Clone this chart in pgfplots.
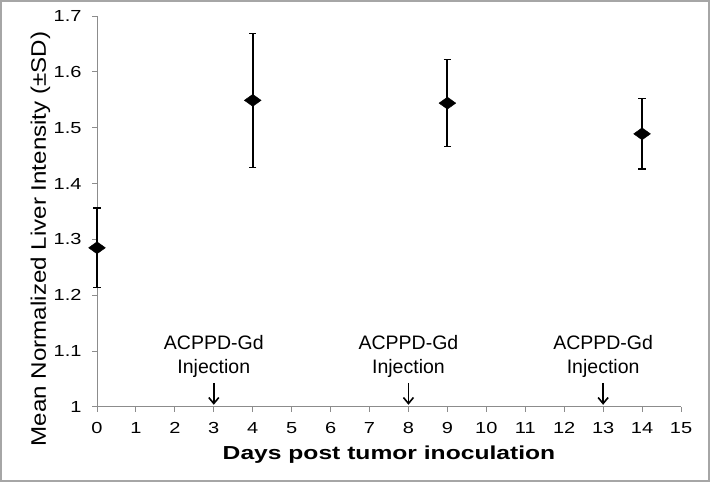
\documentclass[border=0pt]{standalone}
\usepackage{pgfplots}
\pgfplotsset{compat=1.18}
\usepackage{graphicx}
\usepackage{fontspec}
\setmainfont{Liberation Sans}
\usetikzlibrary{arrows.meta}
\begin{document}
\begin{tikzpicture}[x=1pt,y=1pt]
\useasboundingbox (0,0) rectangle (710,482);
\draw[line width=2pt, color=black!35] (1,1) rectangle (709,481);
\begin{axis}[
  at={(97pt,75pt)}, anchor=south west,
  scale only axis, width=584pt, height=391pt,
  xmin=0, xmax=15, ymin=1, ymax=1.7,
  xtick={0,1,...,15}, ytick={1,1.1,1.2,1.3,1.4,1.5,1.6,1.7},
  xticklabel={\scalebox{1.25}[1]{\pgfmathprintnumber{\tick}}},
  yticklabel={\scalebox{1.25}[1]{\pgfmathprintnumber[fixed,precision=1]{\tick}}},
  axis x line*=bottom, axis y line*=left,
  axis line style={color=black!45, line width=1pt},
  tick style={color=black!45, line width=1pt},
  tick align=outside, major tick length=5pt,
  /pgf/number format/assume math mode=true,
  ticklabel style={font=\fontsize{16}{19}\selectfont, black},
  xticklabel style={yshift=-7pt},
  yticklabel style={xshift=-7pt},
  xlabel={\textbf{Days post tumor inoculation}},
  ylabel={Mean Normalized Liver Intensity (±SD)},
  xlabel style={font=\fontsize{18.8}{22}\selectfont, xscale=1.31,
    at={(axis description cs:0.5,-0.123)}, anchor=center},
  ylabel style={font=\fontsize{21}{24}\selectfont, xscale=1.15,
    at={(axis description cs:-0.097,0.43)}, anchor=center},
  clip=false,
]
\addplot[only marks, mark=diamond*, mark size=8pt,
  mark options={xscale=1.4, yscale=0.75, fill=black, draw=black},
  error bars/.cd, y dir=both, y explicit,
  error bar style={line width=2pt, black},
  error mark options={rotate=90, mark size=3.7pt, line width=1.5pt, black}]
coordinates {
  (0,1.285) +- (0,0.071)
  (4,1.549) +- (0,0.120)
  (9,1.544) +- (0,0.078)
  (14,1.489) +- (0,0.063)
};
\node[align=center, font=\fontsize{19.5}{24}\selectfont, inner sep=0pt] at (axis cs:3,1.091) {ACPPD-Gd\\Injection};
\node[align=center, font=\fontsize{19.5}{24}\selectfont, inner sep=0pt] at (axis cs:8,1.091) {ACPPD-Gd\\Injection};
\node[align=center, font=\fontsize{19.5}{24}\selectfont, inner sep=0pt] at (axis cs:13,1.091) {ACPPD-Gd\\Injection};
\draw[-{Straight Barb[length=6pt,width=10pt]}, line width=1.6pt] (axis cs:3,1.043) -- (axis cs:3,1.004);
\draw[-{Straight Barb[length=6pt,width=10pt]}, line width=1.6pt] (axis cs:8,1.043) -- (axis cs:8,1.004);
\draw[-{Straight Barb[length=6pt,width=10pt]}, line width=1.6pt] (axis cs:13,1.043) -- (axis cs:13,1.004);
\end{axis}
\end{tikzpicture}
\end{document}
